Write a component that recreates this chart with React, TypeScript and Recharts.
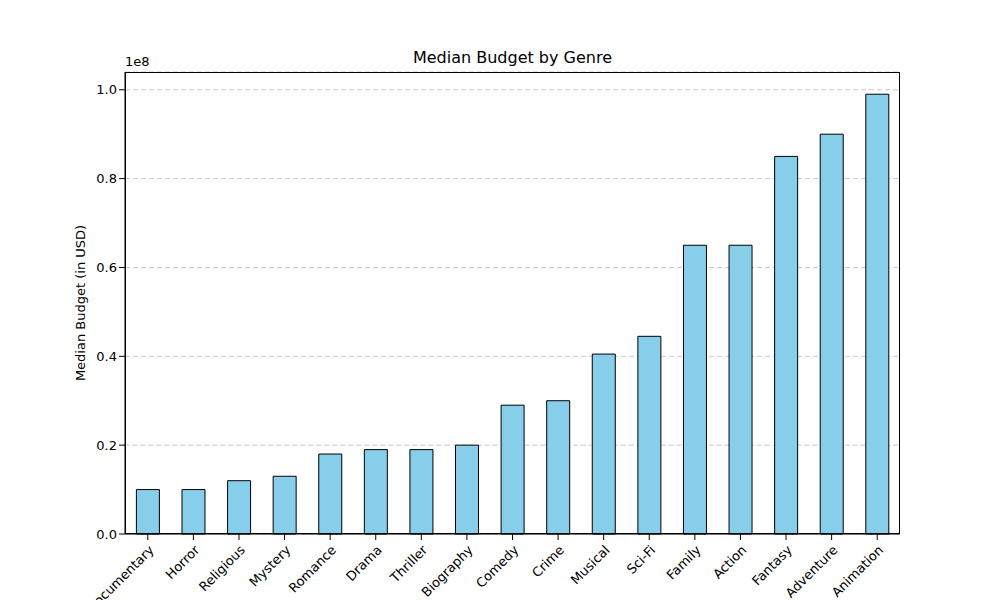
import React from 'react';
import { BarChart, Bar, XAxis, YAxis, CartesianGrid } from 'recharts';

const genres = ['Documentary', 'Horror', 'Religious', 'Mystery', 'Romance', 'Drama', 'Thriller', 'Biography', 'Comedy', 'Crime', 'Musical', 'Sci-Fi', 'Family', 'Action', 'Fantasy', 'Adventure', 'Animation'];
const budgets = [10e6, 10e6, 12e6, 13e6, 18e6, 19e6, 19e6, 20e6, 29e6, 30e6, 40.5e6, 44.5e6, 65e6, 65e6, 85e6, 90e6, 99e6];
const yTicks = [0, 0.2e8, 0.4e8, 0.6e8, 0.8e8, 1.0e8];

const data = genres.map((g, i) => ({ genre: g, budget: budgets[i] }));
const font = 'DejaVu Sans, sans-serif';

const XTick = (props: any) => {
  const { x, y, payload } = props;
  return (
    <g transform={`translate(${x + 4},${y + 6})`}>
      <text transform="rotate(-45)" textAnchor="end" fontSize={13} fill="#000" fontFamily={font} dy={4}>
        {payload.value}
      </text>
    </g>
  );
};

export default function App() {
  return (
    <div style={{ position: 'absolute', left: 0, top: 0, width: 1000, height: 600, background: '#fff', fontFamily: font, overflow: 'hidden' }}>
      <div style={{ position: 'absolute', top: 48, left: 125, width: 775, textAlign: 'center', fontSize: 16 }}>Median Budget by Genre</div>
      <div style={{ position: 'absolute', top: 54, left: 125, fontSize: 13 }}>1e8</div>
      <div style={{ position: 'absolute', left: 80, top: 303, transform: 'translate(-50%,-50%) rotate(-90deg)', fontSize: 13, whiteSpace: 'nowrap' }}>Median Budget (in USD)</div>
      <BarChart width={1000} height={600} data={data} margin={{ top: 72, right: 100, left: 0, bottom: 0 }} barCategoryGap="25%">
        <CartesianGrid vertical={false} stroke="#c8c8c8" strokeDasharray="5 3" />
        <XAxis dataKey="genre" height={66} interval={0} tick={<XTick />} axisLine={{ stroke: '#000' }} tickLine={{ stroke: '#000' }} />
        <YAxis width={125} domain={[0, 1.04e8]} ticks={yTicks} tickFormatter={(v: number) => (v / 1e8).toFixed(1)} tick={{ fill: '#000', fontSize: 13, fontFamily: font }} axisLine={{ stroke: '#000' }} tickLine={{ stroke: '#000' }} />
        <Bar dataKey="budget" fill="#87ceeb" stroke="#000" strokeWidth={1} isAnimationActive={false} />
      </BarChart>
      <div style={{ position: 'absolute', left: 125, top: 72, width: 775, height: 462, boxSizing: 'border-box', border: '1px solid #000', pointerEvents: 'none' }} />
    </div>
  );
}
